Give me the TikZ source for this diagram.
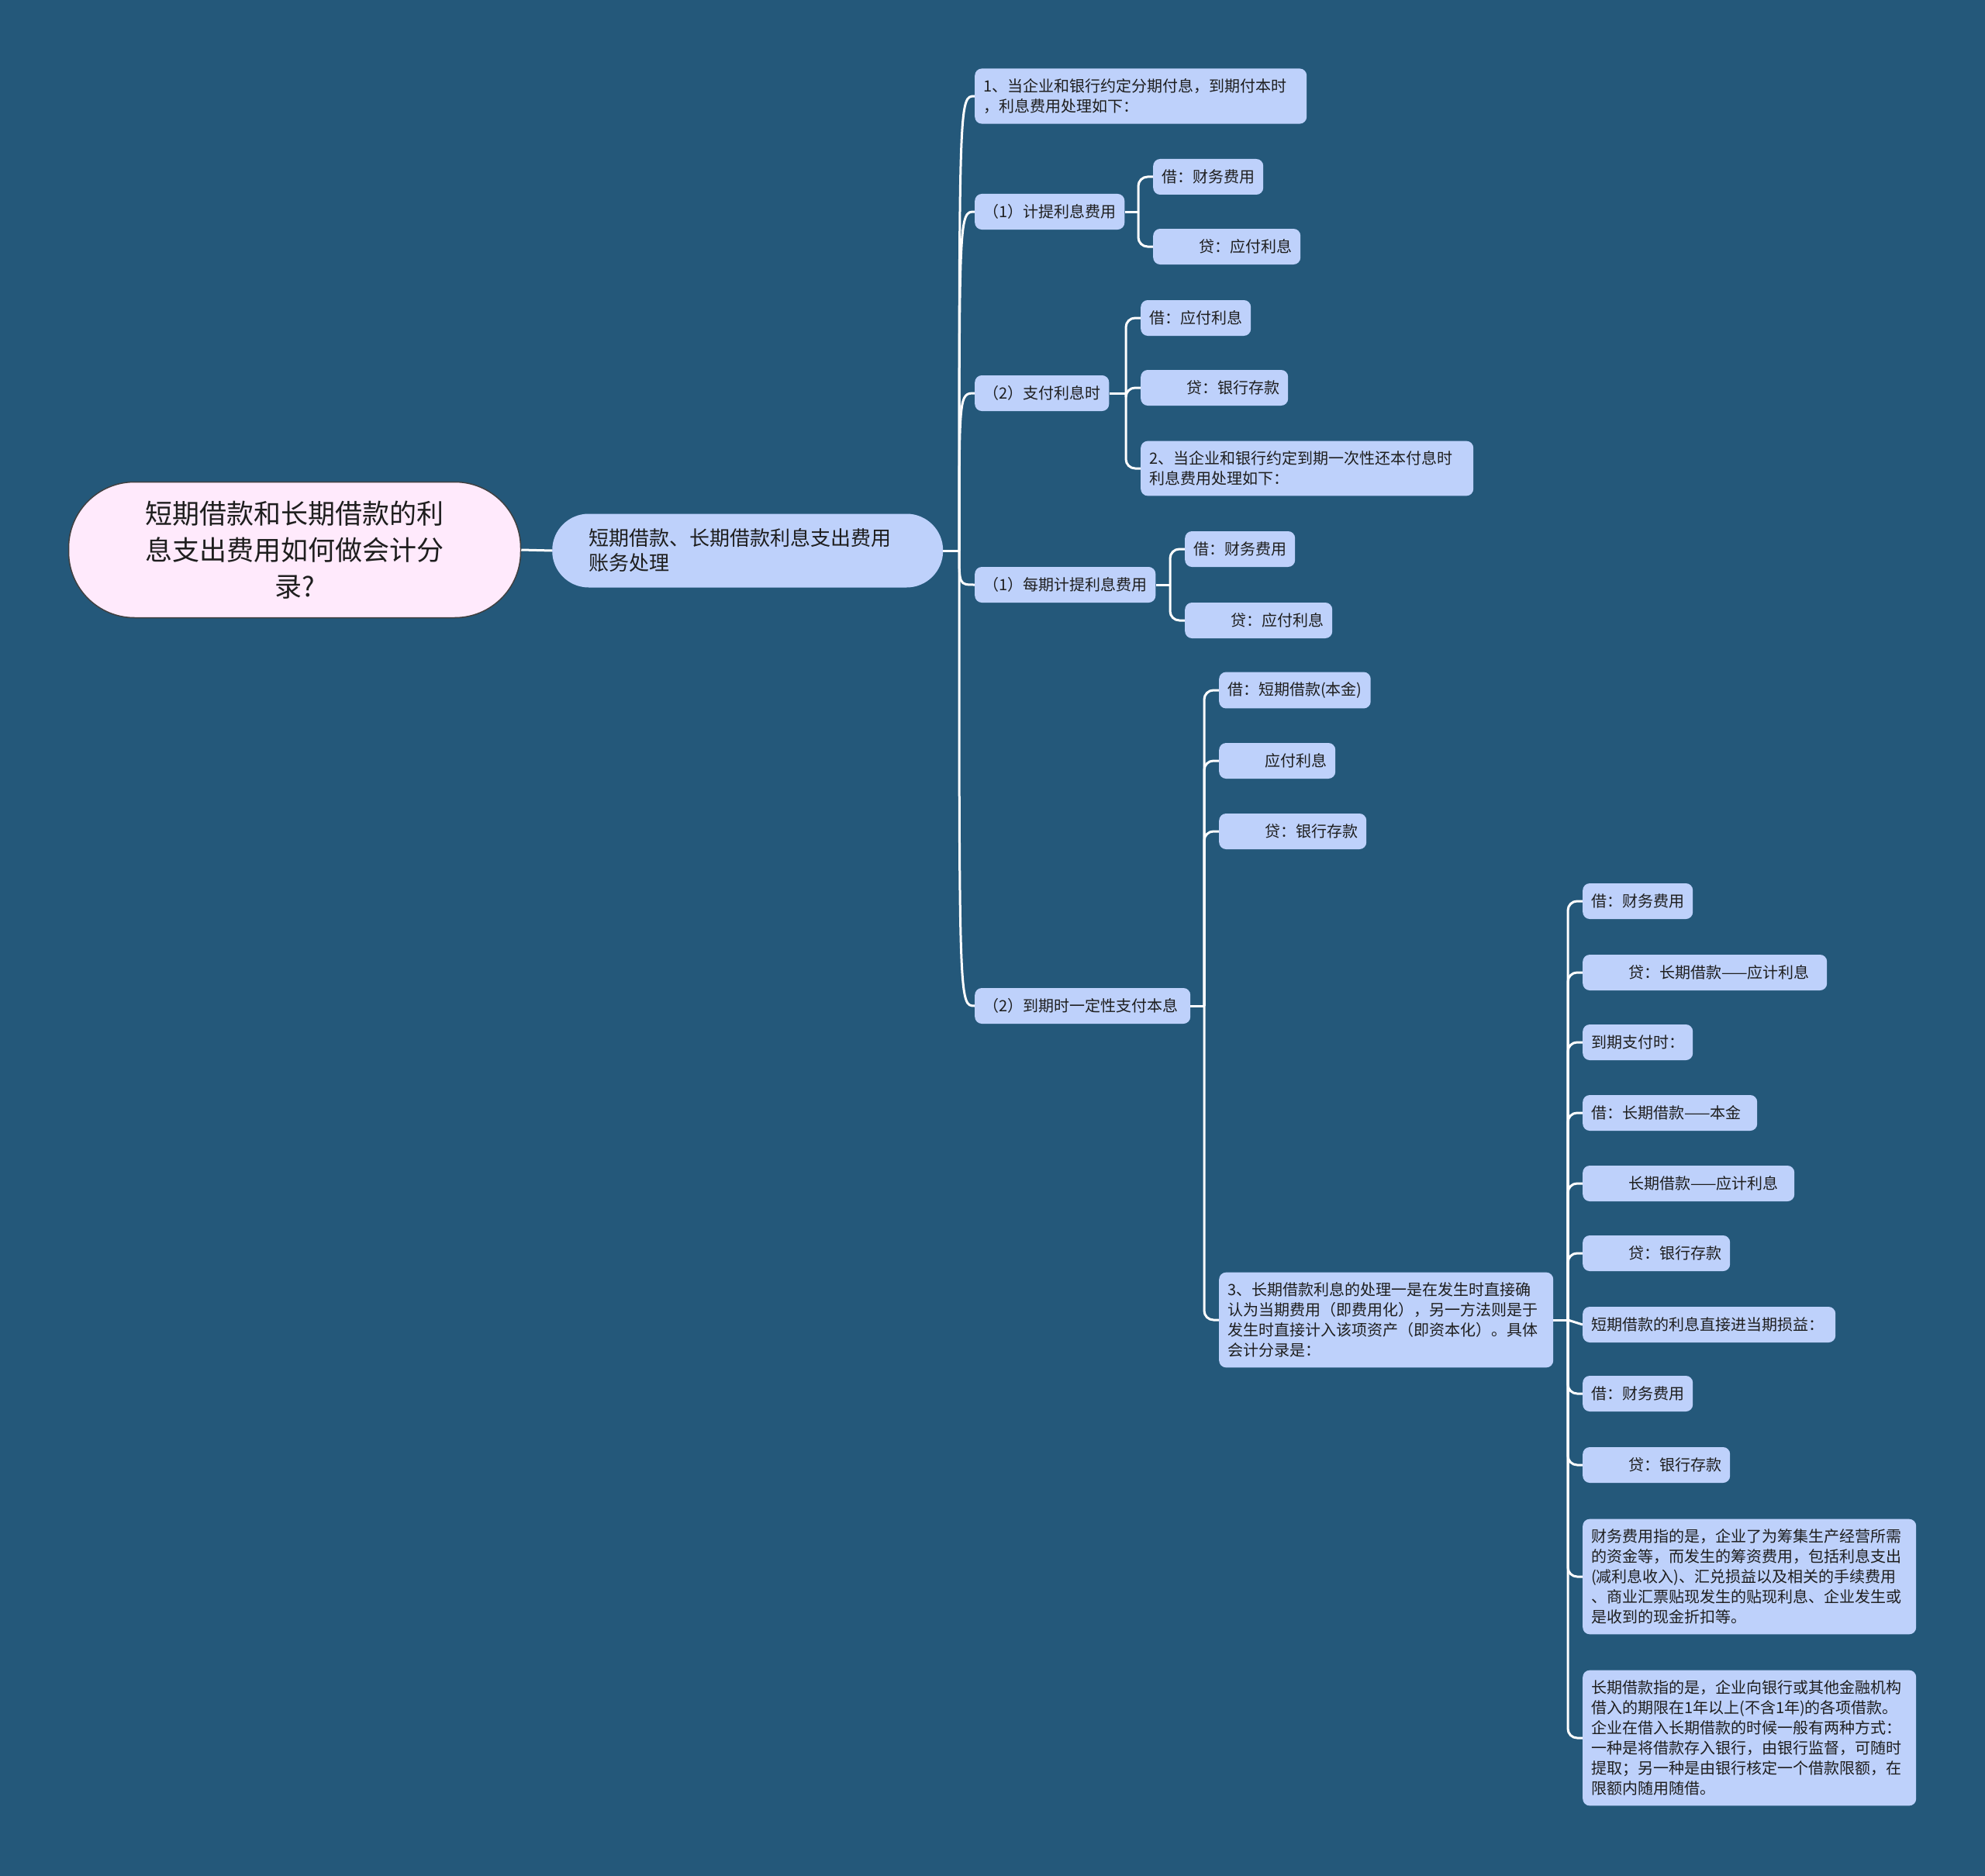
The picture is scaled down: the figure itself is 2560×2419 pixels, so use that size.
\documentclass[tikz,border=0pt]{standalone}
\usepackage{fontspec}
\setmainfont{Noto Sans CJK SC}
\definecolor{bgblue}{RGB}{36,88,122}
\definecolor{leafblue}{RGB}{190,209,251}
\definecolor{rootpink}{RGB}{255,234,252}
\definecolor{inkgray}{RGB}{30,30,30}
\newcommand{\pad}{\hspace*{2.4em}}

\begin{document}
\begin{tikzpicture}[x=1pt,y=-1pt,
  leaf/.style={fill=leafblue,rounded corners=9pt,text=inkgray,anchor=west,align=left,
    font=\fontsize{20}{26}\selectfont,inner xsep=11pt,inner ysep=13pt,minimum height=46pt},
  link/.style={draw=white,line width=3pt},
  fork/.style={link,rounded corners=12pt}]
  \fill[bgblue] (0,0) rectangle (2560,2419);
  \useasboundingbox (0,0) rectangle (2560,2419);

  % centre and first branch
  \node[draw=black!75,line width=1.5pt,fill=rootpink,rounded corners=85pt,text=inkgray,
    minimum width=583pt,minimum height=175pt,text width=400pt,align=center,
    font=\fontsize{35}{47}\selectfont] (root) at (380,709)
    {短期借款和长期借款的利\\息支出费用如何做会计分\\录?};
  \node[fill=leafblue,rounded corners=47pt,text=inkgray,anchor=west,minimum width=504pt,
    minimum height=95pt,text width=410pt,inner xsep=47pt,align=left,
    font=\fontsize{26}{32}\selectfont] (main) at (712,710)
    {短期借款、长期借款利息支出费用\\账务处理};

  % second level
  \node[leaf,text width=406pt] (one) at (1257,124) {1、当企业和银行约定分期付息，到期付本时\\，利息费用处理如下：};
  \node[leaf] (accrue) at (1257,273)  {（1）计提利息费用};
  \node[leaf] (pay)    at (1257,507)  {（2）支付利息时};
  \node[leaf] (period) at (1257,754)  {（1）每期计提利息费用};
  \node[leaf,text width=256pt] (due) at (1257,1297) {（2）到期时一定性支付本息};

  \node[leaf] (accrueDr) at (1487,228) {借：财务费用};
  \node[leaf] (accrueCr) at (1487,318) {\pad 贷：应付利息};

  \node[leaf] (payDr) at (1471,410) {借：应付利息};
  \node[leaf] (payCr) at (1471,500) {\pad 贷：银行存款};
  \node[leaf,text width=407pt] (two) at (1471,604) {2、当企业和银行约定到期一次性还本付息时\\利息费用处理如下：};

  \node[leaf] (periodDr) at (1528,708) {借：财务费用};
  \node[leaf] (periodCr) at (1528,800) {\pad 贷：应付利息};

  \node[leaf] (dueDr)  at (1572,890)  {借：短期借款(本金)};
  \node[leaf] (dueInt) at (1572,981)  {\pad 应付利息};
  \node[leaf] (dueCr)  at (1572,1072) {\pad 贷：银行存款};
  \node[leaf,text width=409pt] (three) at (1572,1702) {3、长期借款利息的处理一是在发生时直接确\\认为当期费用（即费用化），另一方法则是于\\发生时直接计入该项资产（即资本化）。具体\\会计分录是：};

  % long-term loan entries
  \node[leaf] (lDr)     at (2041,1162) {借：财务费用};
  \node[leaf,text width=293pt] (lCr) at (2041,1254) {\pad 贷：长期借款——应计利息};
  \node[leaf] (lPay)    at (2041,1344) {到期支付时：};
  \node[leaf,text width=203pt] (lPrin) at (2041,1435) {借：长期借款——本金};
  \node[leaf,text width=251pt] (lInt) at (2041,1526) {\pad 长期借款——应计利息};
  \node[leaf]  (lBank)  at (2041,1616) {\pad 贷：银行存款};
  \node[leaf,text width=304pt] (sNote) at (2041,1708) {短期借款的利息直接进当期损益：};
  \node[leaf] (sDr)     at (2041,1797) {借：财务费用};
  \node[leaf] (sCr)     at (2041,1889) {\pad 贷：银行存款};
  \node[leaf,text width=408pt] (feeNote) at (2041,2033) {财务费用指的是，企业了为筹集生产经营所需\\的资金等，而发生的筹资费用，包括利息支出\\(减利息收入)、汇兑损益以及相关的手续费用\\、商业汇票贴现发生的贴现利息、企业发生或\\是收到的现金折扣等。};
  \node[leaf,text width=408pt] (loanNote) at (2041,2241) {长期借款指的是，企业向银行或其他金融机构\\借入的期限在1年以上(不含1年)的各项借款。\\企业在借入长期借款的时候一般有两种方式：\\一种是将借款存入银行，由银行监督，可随时\\提取；另一种是由银行核定一个借款限额，在\\限额内随用随借。};

  % connectors
  \draw[link] (root.east) -- (main.west);
  \coordinate (mainFork) at ([xshift=-20pt]one.west |- main.east);
  \draw[link] (main.east) -- (mainFork);
  \foreach \c in {one,accrue,pay,period,due}
    \draw[link] (mainFork) .. controls (mainFork |- \c.west) .. (\c.west);

  \coordinate (accrueFork) at ([xshift=-19pt]accrueDr.west |- accrue.east);
  \draw[link] (accrue.east) -- (accrueFork);
  \foreach \c in {accrueDr,accrueCr}
    \draw[fork] (accrueFork) |- (\c.west);

  \coordinate (payFork) at ([xshift=-19pt]payDr.west |- pay.east);
  \draw[link] (pay.east) -- (payFork);
  \foreach \c in {payDr,payCr,two}
    \draw[fork] (payFork) |- (\c.west);

  \coordinate (periodFork) at ([xshift=-19pt]periodDr.west |- period.east);
  \draw[link] (period.east) -- (periodFork);
  \foreach \c in {periodDr,periodCr}
    \draw[fork] (periodFork) |- (\c.west);

  \coordinate (dueFork) at ([xshift=-19pt]dueDr.west |- due.east);
  \draw[link] (due.east) -- (dueFork);
  \foreach \c in {dueDr,dueInt,dueCr,three}
    \draw[fork] (dueFork) |- (\c.west);

  \coordinate (threeFork) at ([xshift=-19pt]lDr.west |- three.east);
  \draw[link] (three.east) -- (threeFork);
  \foreach \c in {lDr,lCr,lPay,lPrin,lInt,lBank,sDr,sCr,feeNote,loanNote}
    \draw[fork] (threeFork) |- (\c.west);
  \draw[link] (threeFork) -- (sNote.west);
\end{tikzpicture}
\end{document}
